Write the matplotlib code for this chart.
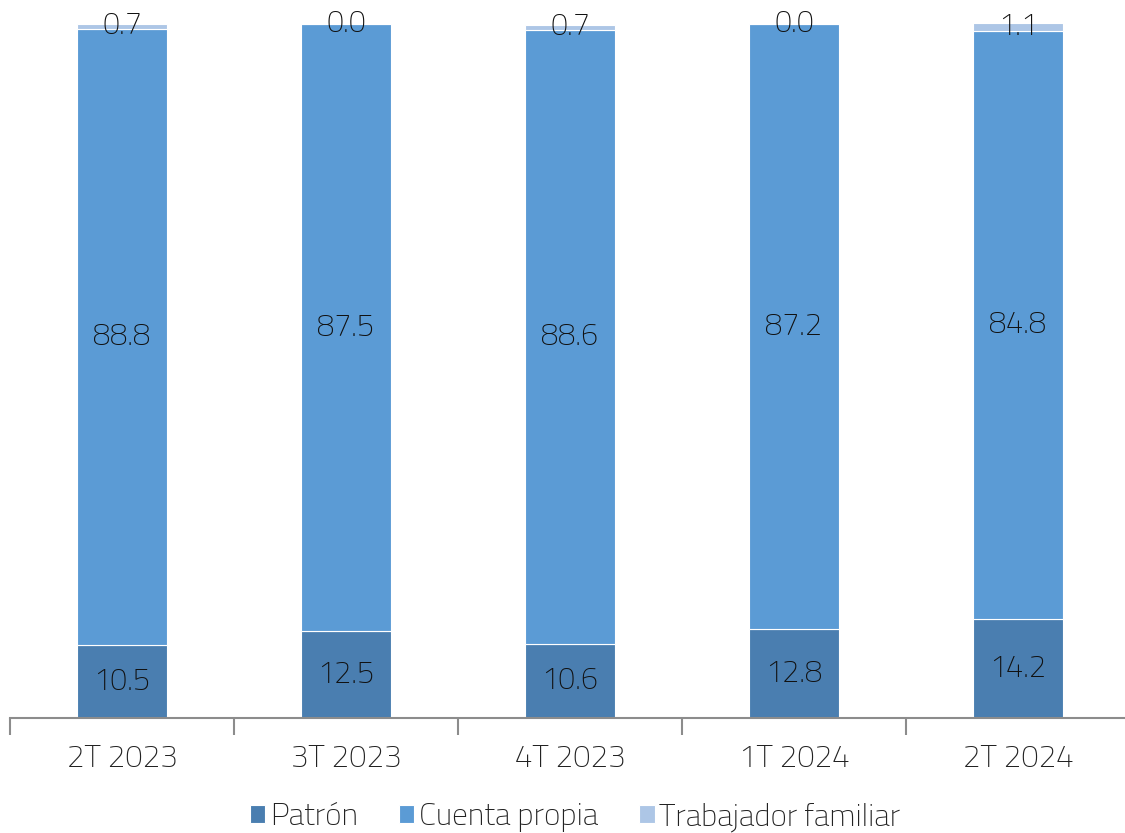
import matplotlib.pyplot as plt
import numpy as np

cats = ['2T 2023', '3T 2023', '4T 2023', '1T 2024', '2T 2024']
patron = [10.5, 12.5, 10.6, 12.8, 14.2]
cuenta = [88.8, 87.5, 88.6, 87.2, 84.8]
familiar = [0.7, 0.0, 0.7, 0.0, 1.1]
names = ['Patrón', 'Cuenta propia', 'Trabajador familiar']
colors = ['#4a7eb0', '#5b9bd5', '#adc6e6']

plt.rcParams['font.family'] = ['Titillium Web', 'DejaVu Sans']
plt.rcParams['font.weight'] = 'light'

fig = plt.figure(figsize=(11.25, 8.33), dpi=100)
ax = fig.add_axes([10 / 1125, 1 - 718 / 833, 1120 / 1125, (718 - 24) / 833])

x = np.arange(len(cats))
bottom = np.zeros(len(cats))
handles = []
for vals, c, n in zip([patron, cuenta, familiar], colors, names):
    vals = np.array(vals)
    b = ax.bar(x, vals, 0.4, bottom=bottom, color=c, edgecolor='white', linewidth=0.8, label=n)
    handles.append(b)
    for xi, v, bt in zip(x, vals, bottom):
        ax.text(xi, bt + v / 2, f'{v:.1f}', ha='center', va='center', fontsize=22, color='#111111')
    bottom += vals

ax.set_xlim(-0.5, 4.5)
ax.set_ylim(0, 100)
ax.set_yticks([])
for s in ['top', 'right', 'left']:
    ax.spines[s].set_visible(False)
ax.spines['bottom'].set_color('#8c8c8c')
ax.spines['bottom'].set_linewidth(1.5)
# category boundaries as major ticks, labels on minor ticks
ax.set_xticks(np.arange(-0.5, 5, 1))
ax.set_xticklabels([])
ax.tick_params(axis='x', length=12, width=1.5, color='#8c8c8c', direction='out')
ax.set_xticks(x, minor=True)
ax.set_xticklabels(cats, minor=True, fontsize=22.5, color='#222222')
ax.tick_params(axis='x', which='minor', length=0, pad=19)

fig.legend(handles=handles, labels=names, loc='center', bbox_to_anchor=(575 / 1125, 1 - 817 / 833),
           ncol=3, frameon=False, fontsize=22.5, handlelength=0.5, handleheight=0.5,
           handletextpad=0.15, columnspacing=1.3, labelcolor='#222222')

fig.savefig('out.png', dpi=100)
